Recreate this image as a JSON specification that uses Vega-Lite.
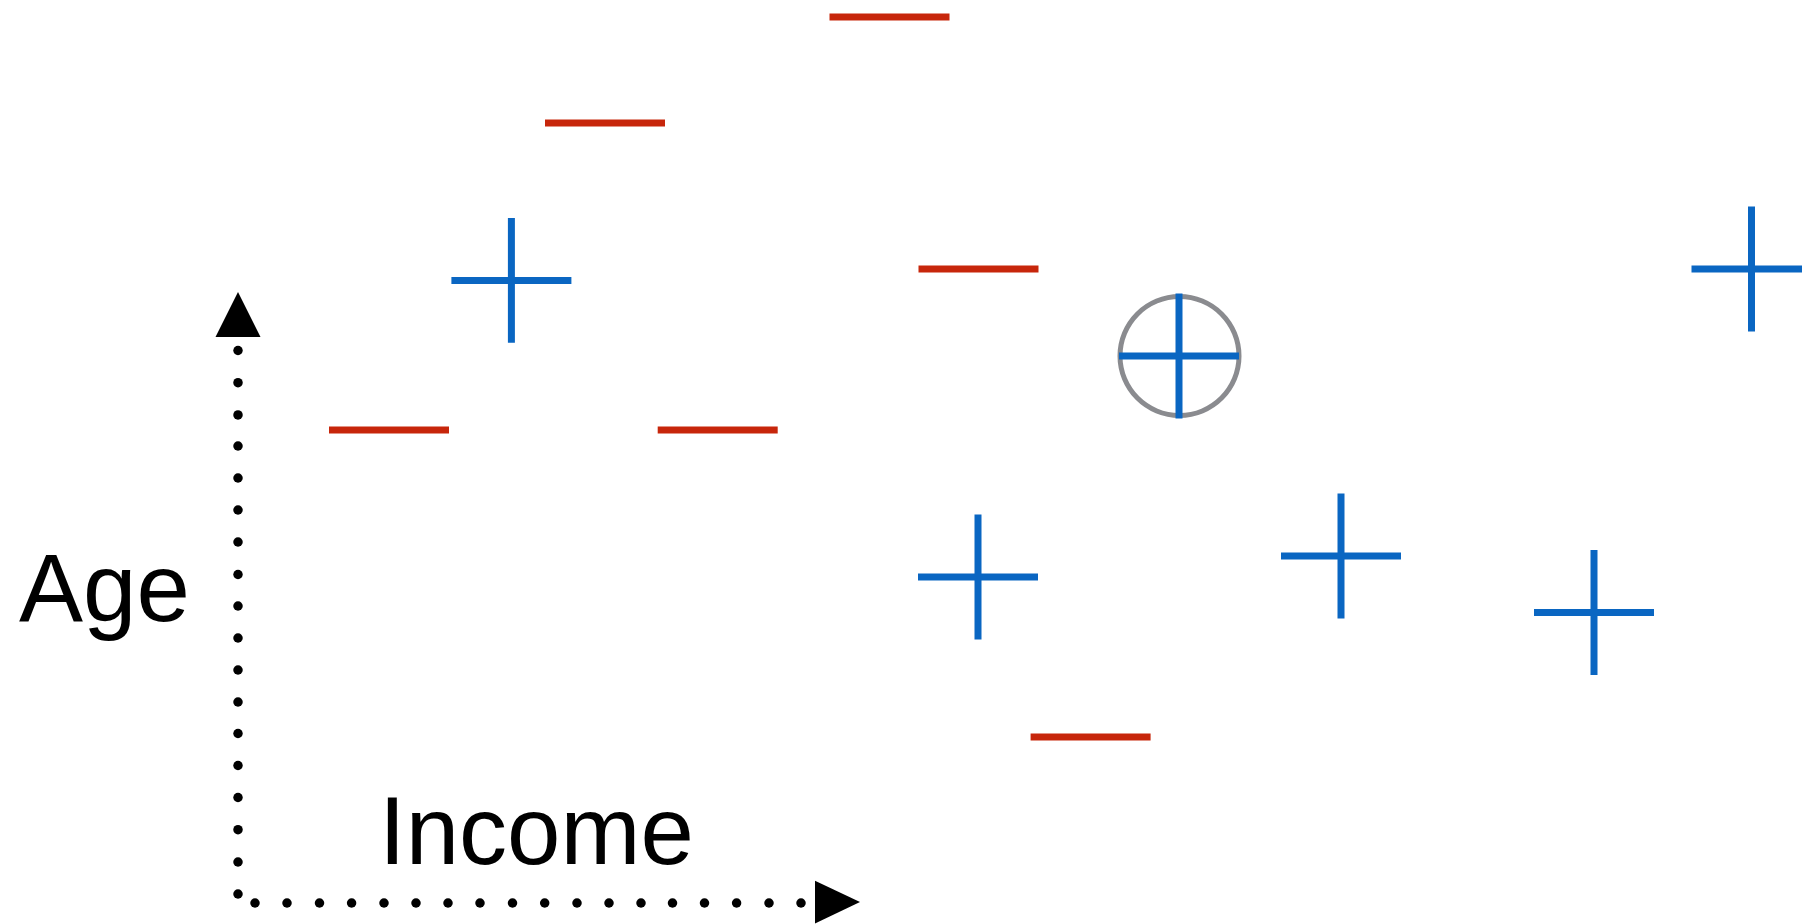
{
  "$schema": "https://vega.github.io/schema/vega-lite/v6.json",
  "width": 1802,
  "height": 924,
  "autosize": "none",
  "padding": 0,
  "background": "white",
  "config": {"view": {"stroke": null}},
  "datasets": {
    "minus": [
      {"income": 889.5, "age": 17},
      {"income": 605, "age": 123},
      {"income": 978.5, "age": 269},
      {"income": 389, "age": 430},
      {"income": 717.7, "age": 430},
      {"income": 1090.6, "age": 737}
    ],
    "plus": [
      {"income": 511.4, "age": 280.4},
      {"income": 1179, "age": 356},
      {"income": 1751.5, "age": 269},
      {"income": 978, "age": 577},
      {"income": 1341, "age": 556},
      {"income": 1594, "age": 612.5}
    ],
    "circled": [
      {"income": 1179.5, "age": 356}
    ],
    "dots": [
      {"income": 238, "age": 350.5}, {"income": 238, "age": 382.7}, {"income": 238, "age": 414.9},
      {"income": 238, "age": 446}, {"income": 238, "age": 478}, {"income": 238, "age": 510},
      {"income": 238, "age": 542}, {"income": 238, "age": 574.5}, {"income": 238, "age": 606},
      {"income": 238, "age": 638}, {"income": 238, "age": 670}, {"income": 238, "age": 702},
      {"income": 238, "age": 733.5}, {"income": 238, "age": 765.5}, {"income": 238, "age": 797.5},
      {"income": 238, "age": 829.7}, {"income": 238, "age": 862}, {"income": 238, "age": 894},
      {"income": 255, "age": 903}, {"income": 287, "age": 903}, {"income": 319.5, "age": 903},
      {"income": 351.6, "age": 903}, {"income": 384, "age": 903}, {"income": 416, "age": 903},
      {"income": 448, "age": 903}, {"income": 480, "age": 903}, {"income": 512.5, "age": 903},
      {"income": 544.7, "age": 903}, {"income": 577, "age": 903}, {"income": 609, "age": 903},
      {"income": 641, "age": 903}, {"income": 672.5, "age": 903}, {"income": 704.5, "age": 903},
      {"income": 736.6, "age": 903}, {"income": 769, "age": 903}, {"income": 801, "age": 903}
    ],
    "arrowUp": [{"income": 238, "age": 314.5}],
    "arrowRight": [{"income": 837.5, "age": 902}],
    "labels": [
      {"income": 19, "age": 621, "label": "Age"},
      {"income": 379, "age": 864, "label": "Income"}
    ]
  },
  "encoding": {
    "x": {"field": "income", "type": "quantitative", "scale": {"domain": [0, 1802], "nice": false, "zero": false}, "axis": null},
    "y": {"field": "age", "type": "quantitative", "scale": {"domain": [0, 924], "nice": false, "zero": false, "reverse": true}, "axis": null}
  },
  "layer": [
    {
      "data": {"name": "circled"},
      "mark": {"type": "arc", "radius": 62, "radius2": 57, "theta": 0, "theta2": 6.2832, "fill": "#8A8B8F", "stroke": null, "opacity": 1}
    },
    {
      "data": {"name": "minus"},
      "mark": {"type": "point", "shape": "M-1,0H1", "size": 14400, "filled": false, "stroke": "#C7260B", "strokeWidth": 7, "opacity": 1}
    },
    {
      "data": {"name": "plus"},
      "mark": {"type": "point", "shape": "M-1,0H1M0,-1.04V1.04", "size": 14400, "filled": false, "stroke": "#0A66C2", "strokeWidth": 7, "opacity": 1}
    },
    {
      "data": {"name": "dots"},
      "mark": {"type": "point", "shape": "circle", "size": 90, "filled": true, "fill": "black", "stroke": null, "opacity": 1}
    },
    {
      "data": {"name": "arrowUp"},
      "mark": {"type": "point", "shape": "M0,-1L1,1L-1,1Z", "size": 2025, "filled": true, "fill": "black", "stroke": null, "opacity": 1}
    },
    {
      "data": {"name": "arrowRight"},
      "mark": {"type": "point", "shape": "M1,0L-1,-0.95L-1,0.95Z", "size": 2025, "filled": true, "fill": "black", "stroke": null, "opacity": 1}
    },
    {
      "data": {"name": "labels"},
      "mark": {"type": "text", "align": "left", "baseline": "alphabetic", "font": "Liberation Sans", "fontWeight": "normal", "fontSize": 96, "color": "black"},
      "encoding": {"text": {"field": "label", "type": "nominal"}}
    }
  ]
}
